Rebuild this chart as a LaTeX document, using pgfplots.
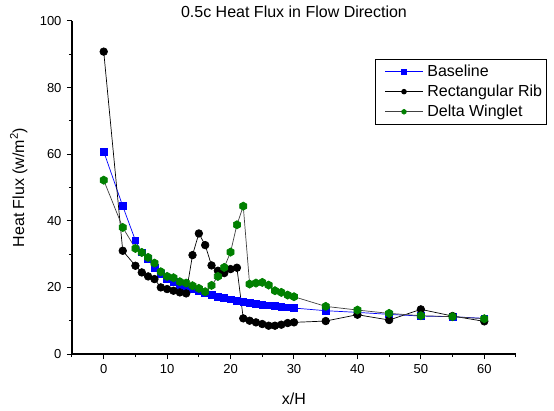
\documentclass[border=0pt]{standalone}
\usepackage{fontspec}
\setmainfont{Liberation Sans}
\usepackage{pgfplots}
\pgfplotsset{compat=1.18}
\definecolor{obase}{RGB}{0,0,255}
\definecolor{ogreen}{RGB}{0,128,0}
\pgfdeclareplotmark{hexagon}{%
  \pgfpathmoveto{\pgfqpointpolar{90}{\pgfplotmarksize}}%
  \pgfpathlineto{\pgfqpointpolar{150}{\pgfplotmarksize}}%
  \pgfpathlineto{\pgfqpointpolar{210}{\pgfplotmarksize}}%
  \pgfpathlineto{\pgfqpointpolar{270}{\pgfplotmarksize}}%
  \pgfpathlineto{\pgfqpointpolar{330}{\pgfplotmarksize}}%
  \pgfpathlineto{\pgfqpointpolar{30}{\pgfplotmarksize}}%
  \pgfpathclose
  \pgfusepathqfillstroke}
\begin{document}
\begin{tikzpicture}
\begin{axis}[
  scale only axis,
  width=444pt, height=333pt,
  xmin=-5, xmax=65, ymin=0, ymax=100,
  axis x line*=bottom, axis y line*=left,
  axis line style={-, line width=1.1pt},
  tick align=outside,
  tick style={black, line width=1pt},
  major tick length=5pt, minor tick length=3pt,
  xtick={0,10,...,60}, minor xtick={-5,5,15,25,35,45,55,65},
  ytick={0,20,...,100}, minor ytick={10,30,50,70,90},
  /pgf/number format/assume math mode=true,
  tick label style={font=\fontsize{13}{15}\selectfont},
  xticklabel style={yshift=-2pt},
  yticklabel style={xshift=-2pt},
  title={0.5c Heat Flux in Flow Direction},
  title style={font=\fontsize{16}{18}\selectfont, at={(0.5,1)}, anchor=base, yshift=-3pt},
  xlabel={x/H},
  xlabel style={font=\fontsize{16}{18}\selectfont, at={(0.5,0)}, anchor=base, yshift=-50pt},
  ylabel={Heat Flux (w/m\textsuperscript{2})},
  ylabel style={font=\fontsize{16}{18}\selectfont, at={(-0.108,0.5)}, anchor=base},
  legend style={at={(0.683,0.887)}, anchor=north west, draw=black, line width=0.8pt,
    fill=white, font=\fontsize{16}{19}\selectfont, legend cell align=left,
    inner xsep=2pt, inner ysep=4pt, row sep=3pt},
  legend image code/.code={\path (0pt,0pt) (47pt,0pt);\draw[#1,mark size=2.4pt,mark repeat=2,mark phase=2] plot coordinates {(7pt,0pt) (26pt,0pt) (45pt,0pt)};},
]
\addplot[color=obase, line width=0.7pt, mark=square*, mark size=3.4pt, mark options={fill=obase, draw=obase}] coordinates {
(0,60.8) (3,44.4) (5,34.1) (6,30.5) (7,28.5) (8,25.8) (9,24.0) (10,22.6) (11,21.6) (12,20.8) (13,20.1) (14,19.4)
(15,18.8) (16,18.2) (17,17.7) (18,17.2) (19,16.8) (20,16.4) (21,16.0) (22,15.7) (23,15.4) (24,15.1) (25,14.8)
(26,14.6) (27,14.4) (28,14.2) (29,14.0) (30,13.8) (35,13.0) (40,12.5) (45,11.9) (50,11.4) (55,11.2) (60,10.7)
};
\addlegendentry{Baseline}
\addplot[color=black, line width=0.7pt, mark=*, mark size=3.8pt, mark options={fill=black, draw=black}] coordinates {
(0,90.8) (3,31.0) (5,26.5) (6,24.5) (7,23.3) (8,22.5) (9,20.0) (10,19.5) (11,19.0) (12,18.5) (13,18.2)
(14,29.7) (15,36.2) (16,32.7) (17,26.6) (18,25.0) (19,24.3) (20,25.5) (21,25.9) (22,10.7) (23,10.0)
(24,9.5) (25,9.0) (26,8.5) (27,8.5) (28,8.8) (29,9.3) (30,9.5) (35,9.9) (40,11.8) (45,10.2) (50,13.4) (55,11.4) (60,9.8)
};
\addlegendentry{Rectangular Rib}
\addplot[color=black!75, line width=0.7pt, mark=hexagon, mark size=4.1pt, mark options={fill=ogreen, draw=ogreen}] coordinates {
(0,52.2) (3,38.0) (5,31.7) (6,30.5) (7,29.0) (8,27.3) (9,24.7) (10,23.3) (11,22.9) (12,21.7) (13,21.3) (14,20.5)
(15,19.7) (16,18.7) (17,20.6) (18,23.3) (19,26.0) (20,30.6) (21,38.8) (22,44.4) (23,21.0) (24,21.3) (25,21.5)
(26,20.7) (27,19.0) (28,18.5) (29,17.7) (30,17.2) (35,14.3) (40,13.2) (45,12.2) (50,11.5) (55,11.2) (60,10.6)
};
\addlegendentry{Delta Winglet}
\end{axis}
\pgfresetboundingbox
\path (current axis.south west) ++(-72pt,-56pt) rectangle ++(554pt,410pt);
\end{tikzpicture}
\end{document}
